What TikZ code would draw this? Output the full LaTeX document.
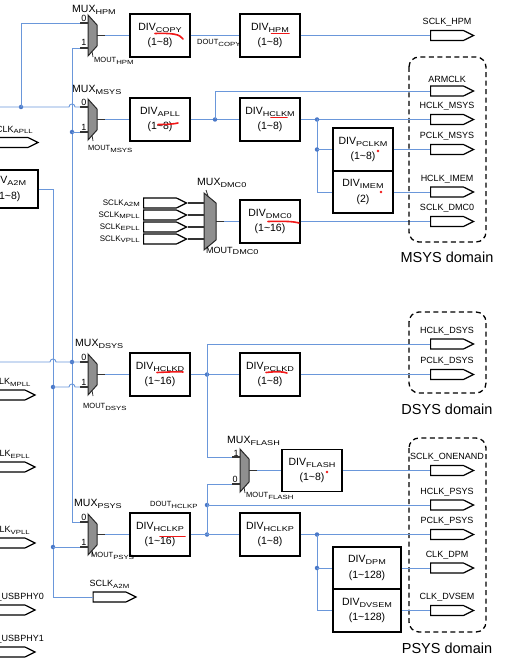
\documentclass[tikz,border=0pt]{standalone}
\usepackage{fontspec}
\setmainfont{Liberation Sans}
\usepackage{graphicx}
\usetikzlibrary{shapes.symbols, positioning}
\definecolor{wireblue}{HTML}{6A97DA}
\definecolor{dotblue}{HTML}{4A78C8}
\definecolor{muxgray}{HTML}{8F8F8F}
\definecolor{markred}{HTML}{F01818}
% lowered, widened subscript
\newcommand{\sbs}[2][6]{\raisebox{-0.35ex}{\scalebox{1.3}[1]{\fontsize{#1}{#1}\selectfont #2}}}
% two-input mux: name, left x, top y, height
\newcommand{\muxtwo}[4]{%
  \filldraw[fill=muxgray, draw=black!85, line width=1pt]
    (#2,#3) -- (#2+9,#3+10) -- (#2+9,#3+#4-10) -- (#2,#3+#4) -- cycle;
  \draw[stub] (#2-8,#3+8) -- (#2,#3+8);
  \draw[stub] (#2-8,#3+#4-8) -- (#2,#3+#4-8);
  \draw[stub] (#2+9,#3+#4/2) -- (#2+17,#3+#4/2);
  \draw[stub, line width=0.8pt] (#2+4,#3+#4-5) -- (#2+5,#3+#4+1);
  \coordinate (#1-a) at (#2-8,#3+8);
  \coordinate (#1-b) at (#2-8,#3+#4-8);
  \coordinate (#1-out) at (#2+17,#3+#4/2);
}

\begin{document}
\begin{tikzpicture}[x=1pt, y=-1pt,
  divbox/.style = {draw, line width=1.3pt, minimum width=60pt,
    minimum height=43pt, inner sep=0pt, align=center,
    font=\fontsize{10.5}{15.5}\selectfont,
    execute at begin node={\rule{0pt}{10pt}}},
  clk/.style = {signal, signal to=east, draw, line width=1.2pt,
    minimum width=43pt, minimum height=10pt, inner sep=0pt,
    signal pointer angle=52},
  clklbl/.style = {font=\fontsize{9}{9}\selectfont, inner sep=0pt},
  inlbl/.style = {font=\fontsize{8}{8}\selectfont, inner sep=0pt},
  muxlbl/.style = {font=\fontsize{10.5}{11}\selectfont, inner sep=0pt, anchor=west},
  moutlbl/.style = {font=\fontsize{7.5}{8}\selectfont, inner sep=0pt, anchor=west},
  pinno/.style = {font=\fontsize{9}{9}\selectfont, inner sep=0pt},
  wire/.style = {draw=wireblue, line width=0.9pt},
  stub/.style = {draw=black!80, line width=1.1pt},
  jdot/.style = {circle, fill=dotblue, inner sep=0pt, minimum size=4.5pt},
  domainbox/.style = {draw, line width=1.3pt, dash pattern=on 5pt off 3.5pt,
    rounded corners=10pt},
  domlbl/.style = {font=\fontsize{14.5}{15}\selectfont, inner sep=0pt},
  redmark/.style = {draw=markred, line width=1.6pt, line cap=round}
]
\useasboundingbox (0,0) rectangle (527,666);
\clip (0,0) rectangle (527,666);

% muxes
\muxtwo{mx-hpm}{88}{15}{41}
\muxtwo{mx-msys}{88}{99}{41}
\muxtwo{mx-dsys}{88}{354}{41}
\muxtwo{mx-psys}{88}{514}{41}
\muxtwo{mx-flash}{240}{449}{43}
\filldraw[fill=muxgray, draw=black!85, line width=1pt]
  (204,193) -- (216,203) -- (216,240) -- (204,250) -- cycle;
\draw[stub, line width=0.8pt] (206,190) -- (208,196);
\draw[stub] (216,221.5) -- (224,221.5);
\coordinate (mx-dmc-in) at (204,221.5);
\coordinate (mx-dmc-out) at (224,221.5);

\node[muxlbl] (tx-mhpm)   at (72,10)   {MUX\sbs[7]{HPM}};
\node[muxlbl] (tx-mmsys)  at (72,90)   {MUX\sbs[7]{MSYS}};
\node[muxlbl] (tx-mdsys)  at (75,344)  {MUX\sbs[7]{DSYS}};
\node[muxlbl] (tx-mpsys)  at (74,504)  {MUX\sbs[7]{PSYS}};
\node[muxlbl] (tx-mflash) at (227,441) {MUX\sbs[7]{FLASH}};
\node[muxlbl] (tx-mdmc)   at (197,183) {MUX\sbs[7]{DMC0}};

\node[moutlbl] (tx-ohpm)   at (94,61)   {MOUT\sbs{HPM}};
\node[moutlbl] (tx-omsys)  at (88,149)  {MOUT\sbs{MSYS}};
\node[moutlbl] (tx-odsys)  at (83,407)  {MOUT\sbs{DSYS}};
\node[moutlbl] (tx-opsys)  at (91,556)  {MOUT\sbs{PSYS}};
\node[moutlbl] (tx-oflash) at (246,496) {MOUT\sbs{FLASH}};
\node[moutlbl, font=\fontsize{9}{9}\selectfont] (tx-odmc) at (206,251) {MOUT\sbs[7]{DMC0}};

\node[pinno] (p-hpm0)   at (84,18.5)  {0};
\node[pinno] (p-hpm1)   at (84,42.5)  {1};
\node[pinno] (p-msys0)  at (84,102.5) {0};
\node[pinno] (p-msys1)  at (84,127)   {1};
\node[pinno] (p-dsys0)  at (84,357.5) {0};
\node[pinno] (p-dsys1)  at (84,382)   {1};
\node[pinno] (p-psys0)  at (84,517)   {0};
\node[pinno] (p-psys1)  at (84,542)   {1};
\node[pinno] (p-flash1) at (236,453)  {1};
\node[pinno] (p-flash0) at (235,479)  {0};

% dividers
\node[divbox] (dv-copy)  at (160,35.5)  {DIV\sbs[7]{COPY}\\(1\textasciitilde8)};
\node[divbox] (dv-hpm)   at (270,35.5)  {DIV\sbs[7]{HPM}\\(1\textasciitilde8)};
\node[divbox] (dv-apll)  at (160,119.5) {DIV\sbs[7]{APLL}\\(1\textasciitilde8)};
\node[divbox] (dv-hclkm) at (270,119.5) {DIV\sbs[7]{HCLKM}\\(1\textasciitilde8)};
\node[divbox] (dv-pclkm) at (363,149.5) {DIV\sbs[7]{PCLKM}\\(1\textasciitilde8)};
\node[divbox, minimum height=42pt] (dv-imem) at (363,192) {DIV\sbs[7]{IMEM}\\(2)};
\node[divbox] (dv-dmc)   at (270,221.5) {DIV\sbs[7]{DMC0}\\(1\textasciitilde16)};
\node[divbox, minimum height=38pt] (dv-a2m) at (8,189) {DIV\sbs[7]{A2M}\\(1\textasciitilde8)};
\node[divbox] (dv-hclkd) at (160,374.5) {DIV\sbs[7]{HCLKD}\\(1\textasciitilde16)};
\node[divbox] (dv-pclkd) at (270,374.5) {DIV\sbs[7]{PCLKD}\\(1\textasciitilde8)};
\node[divbox, minimum height=42pt] (dv-flash) at (312,470.5) {DIV\sbs[7]{FLASH}\\(1\textasciitilde8)};
\node[divbox] (dv-hclkp)  at (160,534.5) {DIV\sbs[7]{HCLKP}\\(1\textasciitilde16)};
\node[divbox] (dv-hclkpp) at (270,534.5) {DIV\sbs[7]{HCLKP}\\(1\textasciitilde8)};
\node[divbox, minimum width=68pt, minimum height=42pt] (dv-dpm) at (367,568) {DIV\sbs[7]{DPM}\\(1\textasciitilde128)};
\node[divbox, minimum width=68pt] (dv-dvsem) at (367,610.5) {DIV\sbs[7]{DVSEM}\\(1\textasciitilde128)};

% clock outputs
\node[clk] (ck-hpm)     at (447,35.5)  {};
\node[clk] (ck-arm)     at (447,91)    {};
\node[clk] (ck-hmsys)   at (447,119.5) {};
\node[clk] (ck-pmsys)   at (447,149.5) {};
\node[clk] (ck-imem)    at (447,192)   {};
\node[clk] (ck-dmc)     at (447,221.5) {};
\node[clk] (ck-hdsys)   at (447,344)   {};
\node[clk] (ck-pdsys)   at (447,374.5) {};
\node[clk] (ck-onenand) at (447,470.5) {};
\node[clk] (ck-hpsys)   at (447,505)   {};
\node[clk] (ck-ppsys)   at (447,534.5) {};
\node[clk] (ck-dpm)     at (447,568)   {};
\node[clk] (ck-dvsem)   at (447,610.5) {};
\node[clk] (ck-a2m)     at (109.5,597) {};
\node[clk] (ck-apll)    at (11.5,142.5) {};
\node[clk] (ck-mpll)    at (8.5,395)   {};
\node[clk] (ck-epll)    at (8.5,467)   {};
\node[clk] (ck-vpll)    at (8.5,543)   {};
\node[clk] (ck-usb0)    at (8.5,610)   {};
\node[clk] (ck-usb1)    at (8.5,652)   {};

\node[clklbl, above=3pt of ck-hpm]     (tx-hpm)     {SCLK\_HPM};
\node[clklbl, above=3pt of ck-arm]     (tx-arm)     {ARMCLK};
\node[clklbl, above=3pt of ck-hmsys]   (tx-hmsys)   {HCLK\_MSYS};
\node[clklbl, above=3pt of ck-pmsys]   (tx-pmsys)   {PCLK\_MSYS};
\node[clklbl, above=3pt of ck-imem]    (tx-imem)    {HCLK\_IMEM};
\node[clklbl, above=3pt of ck-dmc]     (tx-dmc)     {SCLK\_DMC0};
\node[clklbl, above=3pt of ck-hdsys]   (tx-hdsys)   {HCLK\_DSYS};
\node[clklbl, above=3pt of ck-pdsys]   (tx-pdsys)   {PCLK\_DSYS};
\node[clklbl, above=3pt of ck-onenand] (tx-onenand) {SCLK\_ONENAND};
\node[clklbl, above=3pt of ck-hpsys]   (tx-hpsys)   {HCLK\_PSYS};
\node[clklbl, above=3pt of ck-ppsys]   (tx-ppsys)   {PCLK\_PSYS};
\node[clklbl, above=3pt of ck-dpm]     (tx-dpm)     {CLK\_DPM};
\node[clklbl, above=3pt of ck-dvsem]   (tx-dvsem)   {CLK\_DVSEM};
\node[clklbl, above=3pt of ck-a2m]     (tx-a2m)     {SCLK\sbs{A2M}};
\node[clklbl, above=3pt of ck-apll]    (tx-apll)    {SCLK\sbs{APLL}};
\node[clklbl, above=3pt of ck-mpll]    (tx-mpll)    {SCLK\sbs{MPLL}};
\node[clklbl, above=3pt of ck-epll]    (tx-epll)    {SCLK\sbs{EPLL}};
\node[clklbl, above=3pt of ck-vpll]    (tx-vpll)    {SCLK\sbs{VPLL}};
\node[clklbl, above=3pt of ck-usb0]    (tx-usb0)    {SCLK\_USBPHY0};
\node[clklbl, above=3pt of ck-usb1]    (tx-usb1)    {SCLK\_USBPHY1};

% DMC0 mux inputs
\node[clk] (in-a2m)  at (160,203) {};
\node[clk] (in-mpll) at (160,215) {};
\node[clk] (in-epll) at (160,227) {};
\node[clk] (in-vpll) at (160,239) {};
\node[inlbl, left=3pt of in-a2m]  (tx-ia2m)  {SCLK\sbs{A2M}};
\node[inlbl, left=3pt of in-mpll] (tx-impll) {SCLK\sbs{MPLL}};
\node[inlbl, left=3pt of in-epll] (tx-iepll) {SCLK\sbs{EPLL}};
\node[inlbl, left=3pt of in-vpll] (tx-ivpll) {SCLK\sbs{VPLL}};
\foreach \src in {a2m, mpll, epll, vpll}
  \draw[stub] (in-\src.east) -- (in-\src.east -| mx-dmc-in);
\draw[wire] (mx-dmc-out) -- (dv-dmc.west);
\draw[wire] (dv-dmc.east) -- (ck-dmc.west);

% domains
\draw[domainbox] (409,57) rectangle (486,242);
\draw[domainbox] (409,312) rectangle (486,393);
\draw[domainbox] (409,438) rectangle (486,632);
\node[domlbl] (tx-msys) at (447,257) {MSYS domain};
\node[domlbl] (tx-dsys) at (447,409) {DSYS domain};
\node[domlbl] (tx-psys) at (447,648) {PSYS domain};

% HPM path
\draw[wire] (mx-hpm-out) -- (mx-hpm-out -| dv-copy.west);
\draw[wire] (dv-copy.east) -- (dv-hpm.west);
\node[moutlbl] (tx-doutcopy) at (197,43) {DOUT\sbs{COPY}};
\draw[wire] (dv-hpm.east) -- (ck-hpm.west);

% MSYS path
\draw[wire] (mx-msys-out) -- (mx-msys-out -| dv-apll.west);
\draw[wire] (dv-apll.east) -- (dv-hclkm.west);
\node[jdot] (j-apll) at (215,119.5) {};
\draw[wire] (j-apll.center) |- (ck-arm.west);
\draw[wire] (dv-hclkm.east) -- (ck-hmsys.west);
\node[jdot] (j-hclkm) at (317,119.5) {};
\draw[wire] (j-hclkm.center) |- (dv-imem.west);
\node[jdot] (j-pclkm) at (317,149.5) {};
\draw[wire] (j-pclkm.center) -- (dv-pclkm.west);
\draw[wire] (dv-pclkm.east) -- (ck-pmsys.west);
\draw[wire] (dv-imem.east) -- (ck-imem.west);

% left side sources
\coordinate (e-apll) at (-2,107);
\coordinate (e-mpll) at (-2,362);
\coordinate (c-psys) at (72,522);
\coordinate (c-a2m) at (53,597);
\node[jdot] (j-a) at (21,107) {};
\draw[wire] (mx-hpm-a) -| (j-a.center);
\draw[wire] (e-apll) -- (69,107) .. controls (69,103) and (75,103) .. (75,107) -- (mx-msys-a);
\draw[wire] (mx-hpm-b) -| (c-psys) -- (mx-psys-a);
\node[jdot] (j-b) at (72,132) {};
\draw[wire] (j-b.center) -- (mx-msys-b);
\node[jdot] (j-c) at (72,362) {};
\draw[wire] (e-mpll) -- (50,362) .. controls (50,358) and (56,358) .. (56,362) -- (mx-dsys-a);
\draw[wire] (dv-a2m.east) -| (c-a2m) -- (ck-a2m.west);
\node[jdot] (j-d) at (53,387) {};
\draw[wire] (j-d.center) -- (69,387) .. controls (69,383) and (75,383) .. (75,387) -- (mx-dsys-b);
\node[jdot] (j-e) at (53,547) {};
\draw[wire] (j-e.center) -- (mx-psys-b);

% DSYS path
\draw[wire] (mx-dsys-out) -- (mx-dsys-out -| dv-hclkd.west);
\draw[wire] (dv-hclkd.east) -- (dv-pclkd.west);
\node[jdot] (j-hclkd) at (207,374.5) {};
\draw[wire] (j-hclkd.center) |- (ck-hdsys.west);
\draw[wire] (dv-pclkd.east) -- (ck-pdsys.west);
\draw[wire] (j-hclkd.center) |- (mx-flash-a);

% FLASH path
\draw[wire] (mx-flash-out) -- (mx-flash-out -| dv-flash.west);
\draw[wire] (dv-flash.east) -- (ck-onenand.west);
\node[jdot] (j-dout) at (207,505) {};
\node[jdot] (j-hclkp) at (207,534.5) {};
\draw[wire] (mx-flash-b) -| (j-hclkp.center);
\draw[wire] (j-dout.center) -- (ck-hpsys.west);
\node[moutlbl] (tx-douthclkp) at (150,505) {DOUT\sbs{HCLKP}};

% PSYS path
\draw[wire] (mx-psys-out) -- (mx-psys-out -| dv-hclkp.west);
\draw[wire] (dv-hclkp.east) -- (dv-hclkpp.west);
\draw[wire] (dv-hclkpp.east) -- (ck-ppsys.west);
\node[jdot] (j-pclkp) at (317,534.5) {};
\draw[wire] (j-pclkp.center) |- (dv-dvsem.west);
\node[jdot] (j-dpm) at (317,568) {};
\draw[wire] (j-dpm.center) -- (dv-dpm.west);
\draw[wire] (dv-dpm.east) -- (ck-dpm.west);
\draw[wire] (dv-dvsem.east) -- (ck-dvsem.west);

% red review marks
\draw[redmark] (155,33.5) .. controls (172,33) and (180,34) .. (183,39);
\draw[redmark] (271.5,33.5) -- (289,33.5);
\draw[redmark] (158,124.5) .. controls (168,124.5) and (174,124) .. (178,123);
\draw[redmark] (271,117.5) -- (287,117.5);
\draw[redmark] (268,221.5) .. controls (285,221) and (294,221.5) .. (299,223);
\draw[redmark] (157,372.5) .. controls (168,372) and (178,371.5) .. (183,372);
\draw[redmark] (266,372.5) .. controls (275,371.5) and (283,371.5) .. (287,373);
\draw[redmark] (160,536.5) -- (185,536.5);
\fill[markred] (378,151) circle (1.3) (381,192) circle (1.3) (327,472) circle (1.3);
\end{tikzpicture}
\end{document}
